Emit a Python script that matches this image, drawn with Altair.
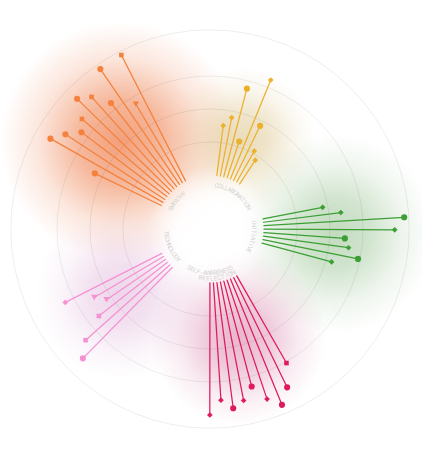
import math
import altair as alt
import pandas as pd

# ---------------- data ----------------
group_names = ["EMPATHY", "COLLABORATION", "INITIATIVE", "SELF-AWARENESS\nREFLECTION", "TECHNOLOGY"]
group_start_angles = [295.8, 7.3, 79.1, 150.3, 224.5]   # degrees, clockwise from 12 o'clock

empathy_values = [56, 98, 90, 81, 87, 100, 93.5, 80.5, 106, 69, 107]
empathy_shapes = ["circle", "circle", "circle", "circle", "square", "circle", "square",
                  "circle", "circle", "triangle-down", "square"]
collaboration_values = [38, 45, 69, 29, 81, 46, 27, 21.5]
collaboration_shapes = ["diamond", "diamond", "circle", "circle", "diamond", "circle",
                        "diamond", "diamond"]
initiative_values = [46, 59, 106.5, 99, 61.5, 65, 73.5, 54.5]
initiative_shapes = ["diamond", "diamond", "circle", "diamond", "circle", "diamond",
                     "circle", "diamond"]
awareness_values = [76, 92.5, 103, 95, 82.5, 91.5, 96, 89, 100]
awareness_shapes = ["square", "circle", "circle", "diamond", "circle", "diamond", "circle",
                    "diamond", "diamond"]
technology_values = [96.5, 85.5, 66, 54, 61, 82]
technology_shapes = ["circle", "square", "square", "triangle-down", "triangle-down", "diamond"]

ring_values = [25, 50, 75, 110]

# ---------------- styles / layout ----------------
colors = ["#f5823c", "#ebb12e", "#3c9f34", "#de1b5c", "#f591d3"]
glow_rgb = [(238, 128, 78), (205, 172, 90), (120, 176, 112), (205, 95, 145), (205, 135, 195)]
glow_alpha = [0.75, 0.42, 0.45, 0.45, 0.34]
glow_dist = [125, 95, 125, 112, 110]
glow_diam = [240, 145, 200, 175, 170]
STEP = 3.72          # angular step between spokes (deg)
INNER = 54           # px radius where spokes start
K = 1.32             # px per value unit
LABEL_R = 44
LABEL_STEP = 4.35

XS = alt.Scale(domain=[-210, 212], nice=False, zero=False)
YS = alt.Scale(domain=[-238, 229], nice=False, zero=False)

all_values = [empathy_values, collaboration_values, initiative_values,
              awareness_values, technology_values]
all_shapes = [empathy_shapes, collaboration_shapes, initiative_shapes,
              awareness_shapes, technology_shapes]

rows = []
for gi, (vals, shps) in enumerate(zip(all_values, all_shapes)):
    for i, (v, s) in enumerate(zip(vals, shps)):
        rows.append({"gi": gi, "idx": i, "value": v, "shape": s,
                     "start": group_start_angles[gi]})
spokes = pd.DataFrame(rows)

deg = "PI/180"
spoke_base = alt.Chart(spokes).transform_calculate(
    th=f"(datum.start + datum.idx*{STEP})*{deg}",
    r1=f"{INNER} + {K}*datum.value",
).transform_calculate(
    x0=f"{INNER}*sin(datum.th)", y0=f"{INNER}*cos(datum.th)",
    x1="datum.r1*sin(datum.th)", y1="datum.r1*cos(datum.th)",
    msize="datum.shape=='circle' ? 38 : datum.shape=='square' ? 21 : datum.shape=='diamond' ? 32 : 40",
)
col = alt.Color("gi:N", scale=alt.Scale(domain=list(range(5)), range=colors), legend=None)

rules = spoke_base.mark_rule(strokeWidth=1.25, strokeCap="round").encode(
    x=alt.X("x0:Q", scale=XS, axis=None), y=alt.Y("y0:Q", scale=YS, axis=None),
    x2="x1:Q", y2="y1:Q", color=col)
points = spoke_base.mark_point(filled=True, opacity=1, strokeWidth=0).encode(
    x=alt.X("x1:Q", scale=XS, axis=None), y=alt.Y("y1:Q", scale=YS, axis=None),
    shape=alt.Shape("shape:N", scale=None),
    size=alt.Size("msize:Q", scale=None), color=col)

# rings
rings = alt.Chart(pd.DataFrame({"v": ring_values})).transform_calculate(
    r=f"{INNER} + {K}*datum.v"
).mark_arc(filled=False, stroke="#000000", strokeOpacity=0.09, strokeWidth=0.8,
           theta=0, theta2=6.2832).encode(
    x=alt.X(datum=0, type="quantitative", scale=XS, axis=None),
    y=alt.Y(datum=0, type="quantitative", scale=YS, axis=None),
    radius=alt.Radius("r:Q", scale=None, stack=None))

# glows
layers = []
for gi in range(5):
    n = len(all_values[gi])
    center = group_start_angles[gi] + (n - 1) / 2 * STEP
    r, g, b = glow_rgb[gi]
    a = glow_alpha[gi]
    grad = {"gradient": "radial", "x1": 0.5, "y1": 0.5, "x2": 0.5, "y2": 0.5, "r1": 0, "r2": 0.5,
            "stops": [
                {"offset": 0, "color": f"rgba({r},{g},{b},{a})"},
                {"offset": 0.35, "color": f"rgba({r},{g},{b},{a*0.75})"},
                {"offset": 0.7, "color": f"rgba({r},{g},{b},{a*0.25})"},
                {"offset": 1, "color": f"rgba({r},{g},{b},0)"}]}
    gdf = pd.DataFrame({"ang": [center], "dist": [glow_dist[gi]], "d": [glow_diam[gi]]})
    layers.append(alt.Chart(gdf).transform_calculate(
        gx=f"datum.dist*sin(datum.ang*{deg})", gy=f"datum.dist*cos(datum.ang*{deg})",
        gs="datum.d*datum.d").mark_point(shape="circle", filled=True, fill=grad,
                                         strokeWidth=0, opacity=1).encode(
        x=alt.X("gx:Q", scale=XS, axis=None), y=alt.Y("gy:Q", scale=YS, axis=None),
        size=alt.Size("gs:Q", scale=None)))

white = {"gradient": "radial", "x1": 0.5, "y1": 0.5, "x2": 0.5, "y2": 0.5, "r1": 0, "r2": 0.5,
         "stops": [{"offset": 0, "color": "rgba(255,255,255,1)"},
                   {"offset": 0.5, "color": "rgba(255,255,255,0.85)"},
                   {"offset": 1, "color": "rgba(255,255,255,0)"}]}
center_glow = alt.Chart(pd.DataFrame({"s": [125 * 125]})).mark_point(
    shape="circle", filled=True, fill=white, strokeWidth=0, opacity=1).encode(
    x=alt.X(datum=0, type="quantitative", scale=XS, axis=None),
    y=alt.Y(datum=0, type="quantitative", scale=YS, axis=None),
    size=alt.Size("s:Q", scale=None))

# curved labels, one character per row
lrows = []
for gi, name in enumerate(group_names):
    st = group_start_angles[gi]
    flip = 90 < st < 270
    for li, line in enumerate(name.split("\n")):
        n = len(line)
        for ci, ch in enumerate(line):
            pos = (n - 1 - ci) if flip else ci
            lrows.append({"ch": ch, "start": st, "pos": pos, "line": li, "flip": int(flip)})
labels = alt.Chart(pd.DataFrame(lrows)).transform_calculate(
    ang=f"datum.start + 1.5 + datum.pos*{LABEL_STEP}",
    lr=f"datum.flip ? {LABEL_R} + 5.5*datum.line : {LABEL_R} - 5.5*datum.line",
).transform_calculate(
    lx=f"datum.lr*sin(datum.ang*{deg})", ly=f"datum.lr*cos(datum.ang*{deg})",
    rot="datum.flip ? (datum.ang + 180) % 360 : datum.ang % 360",
).mark_text(font="Inter", fontSize=6, color="#d3d3d3", baseline="middle", align="center").encode(
    x=alt.X("lx:Q", scale=XS, axis=None), y=alt.Y("ly:Q", scale=YS, axis=None),
    text="ch:N", angle=alt.Angle("rot:Q", scale=None))

chart = alt.layer(*layers, center_glow, rings, labels, rules, points).properties(
    width=422, height=467, padding=0, background="white",
    autosize=alt.AutoSizeParams(type="none"),
).configure_view(stroke=None)

chart.save("out.html", embed_options={"renderer": "svg", "actions": False})
